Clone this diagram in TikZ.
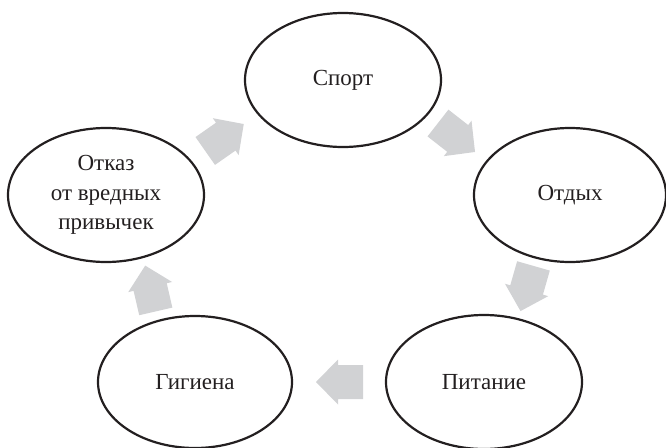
\documentclass[tikz,border=0pt]{standalone}
\usepackage{fontspec}
\setmainfont{Liberation Serif}
\usetikzlibrary{shapes.geometric,calc}
\definecolor{arrowgray}{HTML}{D1D2D4}
\definecolor{inkc}{HTML}{231F20}
\tikzset{
  bubble/.style={ellipse, draw=inkc, line width=2.2pt, minimum width=196pt, minimum height=134pt, inner sep=0pt,
    font=\fontsize{23}{29.5}\selectfont, text=inkc, align=center},
  barrow/.pic={\fill[arrowgray] (-23.5,17) -- (1.5,17) -- (1.5,22.5) -- (23.5,0) -- (1.5,-22.5) -- (1.5,-17) -- (-23.5,-17) -- cycle;}
}
\begin{document}
\begin{tikzpicture}[x=1pt,y=-1pt]
\useasboundingbox (0,0) rectangle (666,447);
\node[bubble] (sport) at (343,80) {Спорт};
\node[bubble, minimum width=192pt] (otdyh) at (570,195) {Отдых};
\node[bubble] (pit) at (484,382) {Питание};
\node[bubble, minimum width=194pt, minimum height=132pt] (gig) at (195,382) {Гигиена};
\node[bubble] (otkaz) at (106,195) {Отказ\\от вредных\\привычек};
\pic[rotate=-38] at ($(sport)!0.5!(otdyh)$) {barrow};
\pic[rotate=-106] at ($(otdyh)!0.5!(pit)$) {barrow};
\pic[rotate=180] at ($(pit)!0.5!(gig)$) {barrow};
\pic[rotate=103] at ($(gig)!0.5!(otkaz)$) {barrow};
\pic[rotate=35] at ($(otkaz)!0.5!(sport)$) {barrow};
\end{tikzpicture}
\end{document}
